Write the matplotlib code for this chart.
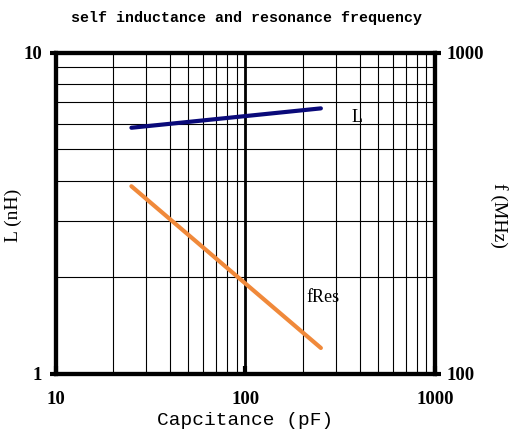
'''self inductance and resonance frequency chart
'''
import matplotlib
matplotlib.use("Agg")
import matplotlib.pyplot as plt
from matplotlib.ticker import FixedLocator, NullFormatter

# data
cap_pf = [25, 250]
induct_nh = [5.84, 6.71]
fres_mhz = [384, 120.5]

x_ticks = [10, 100, 1000]
x_tick_labels = ["10", "100", "1000"]
left_ticks = [1, 10]
left_tick_labels = ["1", "10"]
right_ticks = [100, 1000]
right_tick_labels = ["100", "1000"]

TICK_FONT = dict(family="Liberation Serif", weight="bold", size=13.5)
LABEL_FONT = dict(family="Liberation Mono", size=14)

fig = plt.figure(figsize=(5.27, 4.33), dpi=100)
ax = fig.add_axes([0.1063, 0.1363, 0.719, 0.742])
ax.set_xscale("log")
ax.set_yscale("log")
ax.set_xlim(10, 1000)
ax.set_ylim(1, 10)

# grid
ax.grid(which="both", axis="both", color="black", lw=0.8)
ax.axvline(100, color="black", lw=2)

ax.plot(cap_pf, induct_nh, color="#0a0a7a", lw=3, solid_capstyle="round")

ax2 = ax.twinx()
ax2.set_yscale("log")
ax2.set_ylim(100, 1000)
ax2.plot(cap_pf, fres_mhz, color="#f0893a", lw=3, solid_capstyle="round")

for a in (ax, ax2):
    for sp in a.spines.values():
        sp.set_linewidth(3)
    a.tick_params(which="minor", length=0)

ax.xaxis.set_major_locator(FixedLocator(x_ticks))
ax.set_xticklabels(x_tick_labels, fontdict=TICK_FONT)
ax.xaxis.set_minor_formatter(NullFormatter())
ax.tick_params(axis="x", which="major", direction="in", length=6, width=3, pad=12)
ax.yaxis.set_major_locator(FixedLocator(left_ticks))
ax.set_yticklabels(left_tick_labels, fontdict=TICK_FONT)
ax.yaxis.set_minor_formatter(NullFormatter())
ax.tick_params(axis="y", which="major", direction="out", length=4, width=3, pad=6)
ax2.yaxis.set_major_locator(FixedLocator(right_ticks))
ax2.set_yticklabels(right_tick_labels, fontdict=TICK_FONT)
ax2.yaxis.set_minor_formatter(NullFormatter())
ax2.tick_params(axis="y", which="major", direction="out", length=4, width=3, pad=4)

ax.set_xlabel("Capcitance (pF)", fontdict=LABEL_FONT, labelpad=3)
ax.set_ylabel("L (nH)", family="Liberation Serif", size=14)
ax.yaxis.set_label_coords(-0.09, 0.495)
ax2.set_ylabel("f (MHz)", family="Liberation Serif", size=14, rotation=270, va="center")
ax2.yaxis.set_label_coords(1.17, 0.495)

ax.text(388, 6.27, "L", family="Liberation Serif", size=13, ha="center", va="center")
ax2.text(256, 173, "fRes", family="Liberation Serif", size=13, ha="center", va="center")

fig.text(0.467, 0.958, "self inductance and resonance frequency",
         family="Liberation Mono", weight="bold", size=10.8, ha="center", va="center")

plt.savefig("out.png")
